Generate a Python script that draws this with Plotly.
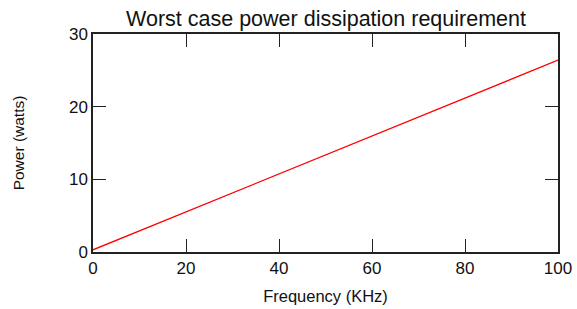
import plotly.graph_objects as go

freq_khz = [0, 10, 20, 30, 40, 50, 60, 70, 80, 90, 100]
power_watts = [0.3, 2.9, 5.5, 8.1, 10.7, 13.3, 15.9, 18.6, 21.1, 23.7, 26.4]

x_ticks = [0, 20, 40, 60, 80, 100]
y_ticks = [0, 10, 20, 30]

fig = go.Figure()
fig.add_trace(go.Scatter(x=freq_khz, y=power_watts, mode="lines",
                         line=dict(color="#ff0000", width=1.3), showlegend=False))

font = "Liberation Sans, Arial, Helvetica, sans-serif"
axis_common = dict(showline=True, linecolor="#222222", linewidth=1.5, mirror="ticks",
                   ticks="inside", ticklen=13, tickwidth=1, tickcolor="#222222",
                   showgrid=False, zeroline=False, automargin=False,
                   tickfont=dict(family=font, size=17, color="#111111"))

fig.update_layout(
    width=577, height=309,
    margin=dict(l=93, r=19, t=34, b=57, autoexpand=False),
    paper_bgcolor="white", plot_bgcolor="white",
    title=dict(text="Worst case power dissipation requirement", x=0.565, xanchor="center",
               y=0.94, yanchor="middle", font=dict(family=font, size=21.5, color="#111111")),
    xaxis=dict(range=[0, 100], tickvals=x_ticks,
               title=dict(text="Frequency (KHz)", font=dict(family=font, size=16.5, color="#111111"), standoff=13),
               **axis_common),
    yaxis=dict(range=[0, 30], tickvals=y_ticks,
               title=dict(text="Power (watts)", font=dict(family=font, size=15.5, color="#111111"), standoff=41),
               **axis_common),
)
fig.write_html("out.html", config={"displayModeBar": False},
               post_script="document.body.style.margin='0';document.body.style.overflow='hidden';")
